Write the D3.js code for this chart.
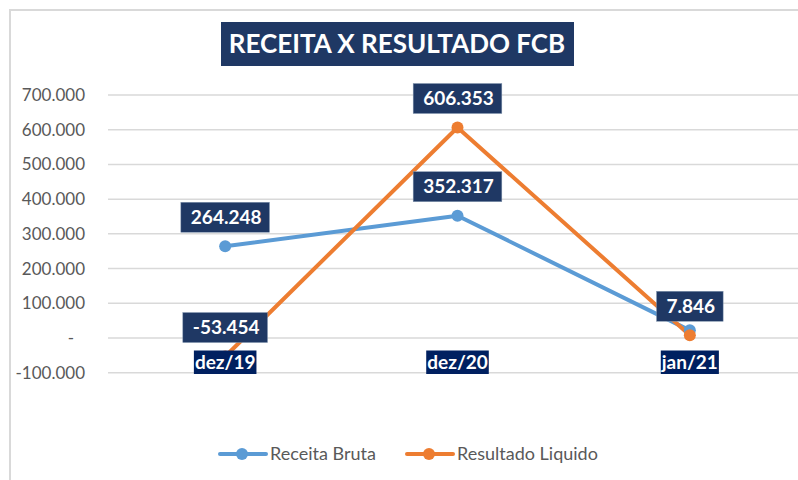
<!DOCTYPE html>
<html>
<head>
<meta charset="utf-8">
<script src="https://cdn.jsdelivr.net/npm/d3@7"></script>
<style>
  body { margin: 0; background: #fff; }
  svg { display: block; }
</style>
</head>
<body>
<script>
const width = 798;
const height = 480;

// dados
const categorias = ['dez/19', 'dez/20', 'jan/21'];
const receitaBruta = [264248, 352317, 22000];
const resultadoLiquido = [-53454, 606353, 7846];
const mostraRotuloReceita = [true, true, false];
const mostraRotuloResultado = [true, true, true];
const yTicks = [-100000, 0, 100000, 200000, 300000, 400000, 500000, 600000, 700000];

const blue = '#5B9BD5';
const orange = '#ED7D31';
const navy = '#1F3864';
const navyDark = '#002060';
const gray = '#595959';
const font = 'Lato, "Open Sans", sans-serif';

const br = d3.formatLocale({ decimal: ',', thousands: '.', grouping: [3], currency: ['R$', ''], minus: '-' });
const fmt = br.format(',');

const svg = d3.select('body')
    .append('svg')
    .attr('width', width)
    .attr('height', height);

// borda do grafico
svg.append('rect')
    .attr('x', 10)
    .attr('y', 10)
    .attr('width', width + 20)
    .attr('height', height + 20)
    .attr('fill', '#fff')
    .attr('stroke', '#D9D9D9')
    .attr('stroke-width', 2);

const xScale = d3.scalePoint().domain(categorias).range([109, 806]).padding(0.5);
const yScale = d3.scaleLinear().domain([-100000, 700000]).range([372.7, 95]);

// linhas de grade
svg.append('g')
    .selectAll('line')
    .data(yTicks)
    .enter()
    .append('line')
    .attr('x1', 108)
    .attr('x2', width)
    .attr('y1', d => yScale(d))
    .attr('y2', d => yScale(d))
    .attr('stroke', '#D9D9D9')
    .attr('stroke-width', 1.5);

// eixo y
const yAxis = d3.axisLeft(yScale)
    .tickValues(yTicks)
    .tickSize(0)
    .tickPadding(0)
    .tickFormat(d => d === 0 ? '-' : fmt(d));
const gy = svg.append('g')
    .attr('transform', 'translate(85, 0)')
    .call(yAxis);
gy.select('.domain').remove();
gy.selectAll('text')
    .style('font-family', font)
    .style('font-size', '17px')
    .attr('fill', gray)
    .attr('dx', d => d === 0 ? -11 : 0);

// titulo
const title = svg.append('g');
title.append('rect')
    .attr('x', 221)
    .attr('y', 22)
    .attr('width', 353)
    .attr('height', 44)
    .attr('fill', navy);
title.append('text')
    .attr('x', 397)
    .attr('y', 53)
    .attr('text-anchor', 'middle')
    .attr('fill', '#fff')
    .style('font-family', font)
    .style('font-weight', 'bold')
    .style('font-size', '26px')
    .text('RECEITA X RESULTADO FCB');

// linhas
const line = d3.line()
    .x((d, i) => xScale(categorias[i]))
    .y(d => yScale(d));

const series = [
    { nome: 'Receita Bruta', valores: receitaBruta, cor: blue, rotulos: mostraRotuloReceita },
    { nome: 'Resultado Liquido', valores: resultadoLiquido, cor: orange, rotulos: mostraRotuloResultado }
];

series.forEach(s => {
    svg.append('path')
        .datum(s.valores)
        .attr('d', line)
        .attr('fill', 'none')
        .attr('stroke', s.cor)
        .attr('stroke-width', 4)
        .attr('stroke-linejoin', 'round');
});

series.forEach(s => {
    svg.append('g')
        .selectAll('circle')
        .data(s.valores)
        .enter()
        .append('circle')
        .attr('cx', (d, i) => xScale(categorias[i]))
        .attr('cy', d => yScale(d))
        .attr('r', 6)
        .attr('fill', s.cor);
});

// rotulos de dados
series.forEach(s => {
    s.valores.forEach((v, i) => {
        if (!s.rotulos[i]) return;
        const cx = xScale(categorias[i]);
        const cy = yScale(v) - 29;
        const g = svg.append('g');
        const t = g.append('text')
            .attr('x', cx + 1)
            .attr('y', cy + 6.5)
            .attr('text-anchor', 'middle')
            .attr('fill', '#fff')
            .style('font-family', font)
            .style('font-weight', 'bold')
            .style('font-size', '19px')
            .text(fmt(v));
        const w = t.node().getComputedTextLength() + 18;
        g.insert('rect', 'text')
            .attr('x', cx - w / 2)
            .attr('y', cy - 15)
            .attr('width', w)
            .attr('height', 30)
            .attr('fill', navy)
            .attr('stroke', '#8497B0')
            .attr('stroke-width', 0.5);
    });
});

// rotulos das categorias
categorias.forEach(c => {
    const cx = xScale(c);
    const g = svg.append('g');
    const t = g.append('text')
        .attr('x', cx)
        .attr('y', 369)
        .attr('text-anchor', 'middle')
        .attr('fill', '#fff')
        .style('font-family', font)
        .style('font-weight', 'bold')
        .style('font-size', '19px')
        .text(c);
    const w = t.node().getComputedTextLength() + 2;
    g.insert('rect', 'text')
        .attr('x', cx - w / 2)
        .attr('y', 350.5)
        .attr('width', w)
        .attr('height', 23.5)
        .attr('fill', navyDark);
});

// legenda
const legendItems = [
    { nome: 'Receita Bruta', cor: blue, x: 220 },
    { nome: 'Resultado Liquido', cor: orange, x: 407 }
];
const legend = svg.append('g').attr('id', 'legend');
legendItems.forEach(item => {
    legend.append('line')
        .attr('x1', item.x)
        .attr('x2', item.x + 46)
        .attr('y1', 454)
        .attr('y2', 454)
        .attr('stroke', item.cor)
        .attr('stroke-width', 4)
        .attr('stroke-linecap', 'round');
    legend.append('circle')
        .attr('cx', item.x + 22)
        .attr('cy', 454)
        .attr('r', 6)
        .attr('fill', item.cor);
    legend.append('text')
        .attr('x', item.x + 50)
        .attr('y', 460)
        .attr('fill', gray)
        .style('font-family', font)
        .style('font-size', '18px')
        .text(item.nome);
});
</script>
</body>
</html>
